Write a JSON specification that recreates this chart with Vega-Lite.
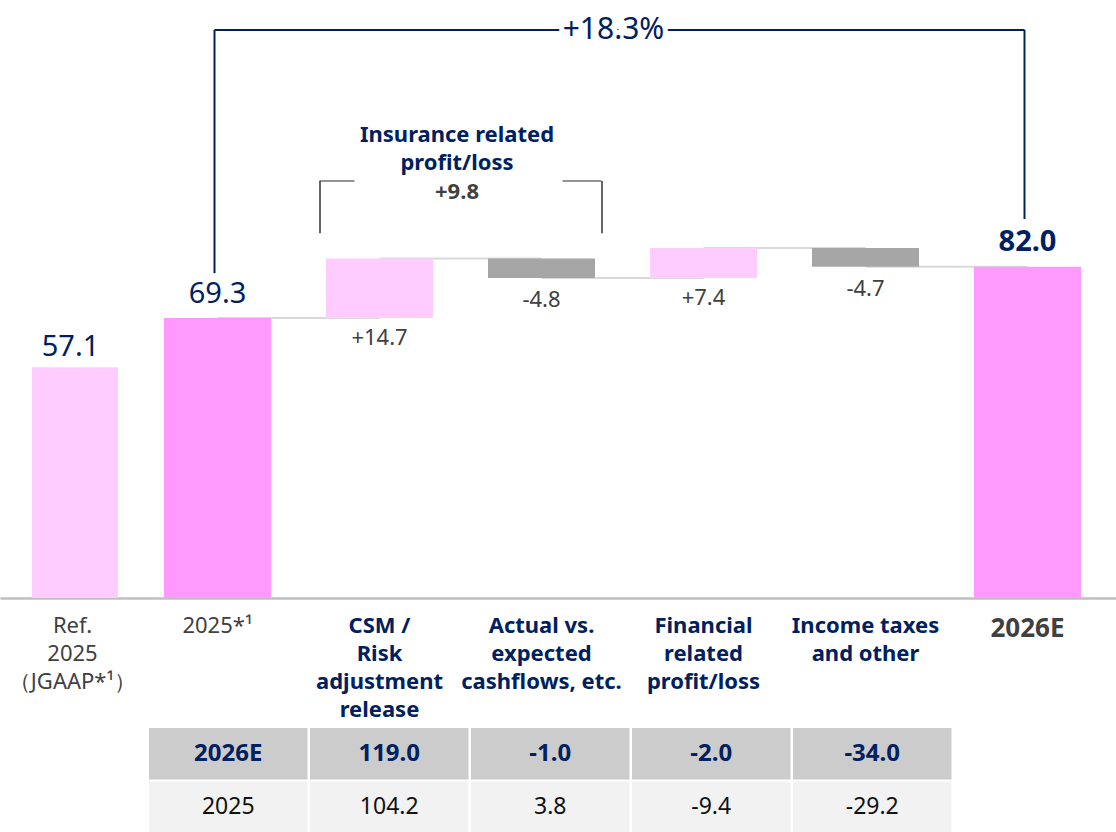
{
  "$schema": "https://vega.github.io/schema/vega-lite/v6.json",
  "padding": 0,
  "background": "white",
  "spacing": 8,
  "config": {"view": {"stroke": null}, "font": "Noto Sans", "text": {"font": "Noto Sans"}},
  "datasets": {
    "wf": [
      {"cat": "Ref", "start": 0, "end": 57.1, "label": "57.1", "kind": "ref", "next": null},
      {"cat": "2025", "start": 0, "end": 69.3, "label": "69.3", "kind": "total", "next": "CSM"},
      {"cat": "CSM", "start": 69.3, "end": 84.0, "label": "+14.7", "kind": "up", "next": "AVE"},
      {"cat": "AVE", "start": 84.0, "end": 79.2, "label": "-4.8", "kind": "down", "next": "FIN"},
      {"cat": "FIN", "start": 79.2, "end": 86.6, "label": "+7.4", "kind": "up", "next": "TAX"},
      {"cat": "TAX", "start": 86.6, "end": 82.0, "label": "-4.7", "kind": "down", "next": "2026E"},
      {"cat": "2026E", "start": 0, "end": 82.0, "label": "82.0", "kind": "final", "next": null}
    ],
    "table": [
      {"row": "2026E", "col": "hdr", "v": "2026E"},
      {"row": "2026E", "col": "CSM", "v": "119.0"},
      {"row": "2026E", "col": "AVE", "v": "-1.0"},
      {"row": "2026E", "col": "FIN", "v": "-2.0"},
      {"row": "2026E", "col": "TAX", "v": "-34.0"},
      {"row": "2025", "col": "hdr", "v": "2025"},
      {"row": "2025", "col": "CSM", "v": "104.2"},
      {"row": "2025", "col": "AVE", "v": "3.8"},
      {"row": "2025", "col": "FIN", "v": "-9.4"},
      {"row": "2025", "col": "TAX", "v": "-29.2"}
    ]
  },
  "vconcat": [
    {
      "width": 1116,
      "height": 598,
      "data": {"name": "wf"},
      "encoding": {
        "x": {
          "field": "cat",
          "type": "nominal",
          "title": null,
          "scale": {
            "domain": ["Ref", "2025", "CSM", "AVE", "FIN", "TAX", "2026E"],
            "paddingInner": 0.3395,
            "paddingOuter": 0.1142,
            "align": 0.054
          },
          "axis": {
            "title": null,
            "ticks": false,
            "domainColor": "#BFBFBF",
            "domainWidth": 2.5,
            "labelPadding": 17,
            "labelFontSize": {"condition": {"test": "datum.value === '2026E'", "value": 26}, "value": 22},
            "labelLineHeight": 28,
            "labelBaseline": "top",
            "labelAngle": 0,
            "labelOverlap": false,
            "labelFont": "Noto Sans",
            "labelExpr": "datum.value === 'Ref' ? ['Ref.', '2025', '（JGAAP*¹）'] : datum.value === '2025' ? '2025*¹' : datum.value === 'CSM' ? ['CSM /', 'Risk', 'adjustment', 'release'] : datum.value === 'AVE' ? ['Actual vs.', 'expected', 'cashflows, etc.'] : datum.value === 'FIN' ? ['Financial', 'related', 'profit/loss'] : datum.value === 'TAX' ? ['Income taxes', 'and other'] : '2026E'",
            "labelColor": {"condition": {"test": "indexof(['CSM','AVE','FIN','TAX'], datum.value) >= 0", "value": "#002060"}, "value": "#404040"},
            "labelFontWeight": {"condition": {"test": "datum.value === 'Ref' || datum.value === '2025'", "value": "normal"}, "value": "bold"},
            "labelOffset": {"condition": {"test": "datum.value === 'Ref'", "value": 17}, "value": 0}
          }
        }
      },
      "layer": [
        {
          "transform": [{"filter": "datum.next != null"}],
          "mark": {"type": "rule", "color": "#D9D9D9", "strokeWidth": 2},
          "encoding": {
            "x2": {"field": "next"},
            "y": {"field": "end", "type": "quantitative", "scale": {"domain": [0, 148], "nice": false, "zero": false}, "axis": null}
          }
        },
        {
          "transform": [{"filter": "datum.kind != 'ref'"}],
          "mark": {"type": "bar"},
          "encoding": {
            "y": {"field": "start", "type": "quantitative"},
            "y2": {"field": "end"},
            "color": {"field": "kind", "type": "nominal", "scale": {"domain": ["ref", "total", "up", "down", "final"], "range": ["#FFCCFF", "#FF99FF", "#FFCCFF", "#A6A6A6", "#FF99FF"]}, "legend": null}
          }
        },
        {
          "transform": [{"filter": "datum.kind == 'ref'"}],
          "mark": {"type": "bar", "width": {"band": 0.804}, "xOffset": 19.5, "color": "#FFCCFF"},
          "encoding": {
            "y": {"field": "start", "type": "quantitative"},
            "y2": {"field": "end"}
          }
        },
        {
          "transform": [{"filter": "datum.kind == 'total'"}],
          "mark": {"type": "text", "fontSize": 29, "color": "#002060", "baseline": "alphabetic", "dy": -15},
          "encoding": {"y": {"field": "end", "type": "quantitative"}, "text": {"field": "label"}}
        },
        {
          "transform": [{"filter": "datum.kind == 'ref'"}],
          "mark": {"type": "text", "fontSize": 29, "color": "#002060", "baseline": "alphabetic", "dy": -11, "dx": 15},
          "encoding": {"y": {"field": "end", "type": "quantitative"}, "text": {"field": "label"}}
        },
        {
          "transform": [{"filter": "datum.kind == 'final'"}],
          "mark": {"type": "text", "fontSize": 29, "fontWeight": "bold", "color": "#002060", "baseline": "alphabetic", "dy": -16},
          "encoding": {"y": {"field": "end", "type": "quantitative"}, "text": {"field": "label"}}
        },
        {
          "transform": [{"filter": "datum.kind == 'up'"}],
          "mark": {"type": "text", "fontSize": 22, "color": "#404040", "baseline": "top", "dy": 10},
          "encoding": {"y": {"field": "start", "type": "quantitative"}, "text": {"field": "label"}}
        },
        {
          "transform": [{"filter": "datum.kind == 'down'"}],
          "mark": {"type": "text", "fontSize": 22, "color": "#404040", "baseline": "top", "dy": 12},
          "encoding": {"y": {"field": "end", "type": "quantitative"}, "text": {"field": "label"}}
        },
        {
          "data": {"values": [{"cat": "2025", "y": 80.4, "y2": 140.6}, {"cat": "2026E", "y": 93.8, "y2": 140.6}]},
          "mark": {"type": "rule", "color": "#002060", "strokeWidth": 2, "xOffset": -3},
          "encoding": {"y": {"field": "y", "type": "quantitative"}, "y2": {"field": "y2"}}
        },
        {
          "data": {"values": [{"cat": "2025", "next": "2026E", "y": 140.6}]},
          "mark": {"type": "rule", "color": "#002060", "strokeWidth": 2, "xOffset": -3, "x2Offset": -3},
          "encoding": {"x2": {"field": "next"}, "y": {"field": "y", "type": "quantitative"}}
        },
        {
          "data": {"values": [{"cat": "AVE", "y": 140.6, "t": "+18.3%"}]},
          "mark": {"type": "text", "fontSize": 30, "color": "white", "stroke": "white", "strokeWidth": 10, "dx": 72, "baseline": "middle"},
          "encoding": {"y": {"field": "y", "type": "quantitative"}, "text": {"field": "t"}}
        },
        {
          "data": {"values": [{"cat": "AVE", "y": 140.6, "t": "+18.3%"}]},
          "mark": {"type": "text", "fontSize": 30, "color": "#002060", "dx": 72, "baseline": "middle"},
          "encoding": {"y": {"field": "y", "type": "quantitative"}, "text": {"field": "t"}}
        },
        {
          "data": {"values": [{"cat": "CSM", "y": 90.3, "y2": 103.2}]},
          "mark": {"type": "rule", "color": "#333333", "strokeWidth": 1.5, "xOffset": -6},
          "encoding": {"x": {"field": "cat", "type": "nominal", "bandPosition": 0}, "y": {"field": "y", "type": "quantitative"}, "y2": {"field": "y2"}}
        },
        {
          "data": {"values": [{"cat": "AVE", "y": 90.3, "y2": 103.2}]},
          "mark": {"type": "rule", "color": "#333333", "strokeWidth": 1.5, "xOffset": 7},
          "encoding": {"x": {"field": "cat", "type": "nominal", "bandPosition": 1}, "y": {"field": "y", "type": "quantitative"}, "y2": {"field": "y2"}}
        },
        {
          "data": {"values": [{"cat": "CSM", "y": 103.2}]},
          "mark": {"type": "tick", "orient": "horizontal", "color": "#333333", "thickness": 1.5, "size": 35, "xOffset": -42.5},
          "encoding": {"y": {"field": "y", "type": "quantitative"}}
        },
        {
          "data": {"values": [{"cat": "AVE", "y": 103.2}]},
          "mark": {"type": "tick", "orient": "horizontal", "color": "#333333", "thickness": 1.5, "size": 39, "xOffset": 40.5},
          "encoding": {"y": {"field": "y", "type": "quantitative"}}
        },
        {
          "data": {"values": [{"cat": "CSM", "y": 114.6, "t": "Insurance related"}, {"cat": "CSM", "y": 107.7, "t": "profit/loss"}]},
          "mark": {"type": "text", "fontSize": 22, "fontWeight": "bold", "color": "#002060", "dx": 77.5, "baseline": "middle"},
          "encoding": {"y": {"field": "y", "type": "quantitative"}, "text": {"field": "t"}}
        },
        {
          "data": {"values": [{"cat": "CSM", "y": 100.6, "t": "+9.8"}]},
          "mark": {"type": "text", "fontSize": 22, "fontWeight": "bold", "color": "#404040", "dx": 77.5, "baseline": "middle"},
          "encoding": {"y": {"field": "y", "type": "quantitative"}, "text": {"field": "t"}}
        }
      ]
    },
    {
      "width": 1116,
      "height": 105,
      "data": {"name": "table"},
      "encoding": {
        "x": {"field": "col", "type": "nominal", "scale": {"domain": ["hdr", "CSM", "AVE", "FIN", "TAX", "blank"], "paddingInner": 0.0155, "paddingOuter": 0.4736, "align": 0.977}, "axis": null},
        "y": {"field": "row", "type": "nominal", "scale": {"domain": ["2026E", "2025"], "paddingInner": 0.04, "paddingOuter": 0}, "axis": null}
      },
      "layer": [
        {
          "transform": [{"filter": "datum.row == '2026E'"}],
          "mark": {"type": "rect", "color": "#CCCCCC"}
        },
        {
          "transform": [{"filter": "datum.row == '2025'"}],
          "mark": {"type": "rect", "color": "#F2F2F2"}
        },
        {
          "transform": [{"filter": "datum.row == '2026E'"}],
          "mark": {"type": "text", "fontSize": 24, "fontWeight": "bold", "color": "#002060"},
          "encoding": {"text": {"field": "v"}}
        },
        {
          "transform": [{"filter": "datum.row == '2025'"}],
          "mark": {"type": "text", "fontSize": 23, "color": "#111111"},
          "encoding": {"text": {"field": "v"}}
        }
      ]
    }
  ]
}
